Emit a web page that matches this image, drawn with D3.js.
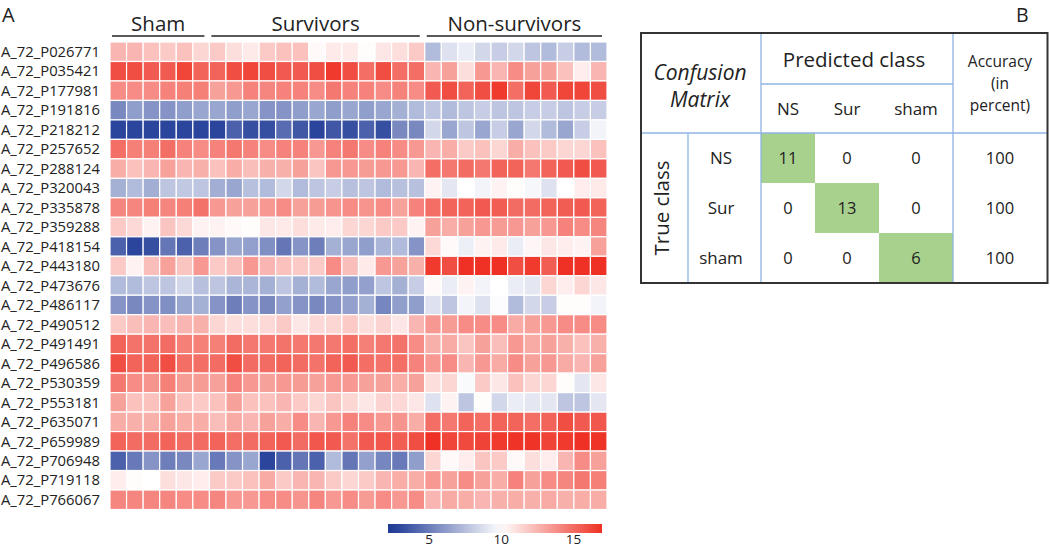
<!DOCTYPE html>
<html><head><meta charset="utf-8">
<script src="https://cdn.jsdelivr.net/npm/d3@7"></script>
<style>body{margin:0;background:#fff}svg{display:block;font-family:"Open Sans",sans-serif}</style>
</head><body><svg id="c" width="1050" height="547"></svg>
<script>
const genes = ["A_72_P026771","A_72_P035421","A_72_P177981","A_72_P191816","A_72_P218212","A_72_P257652","A_72_P288124","A_72_P320043","A_72_P335878","A_72_P359288","A_72_P418154","A_72_P443180","A_72_P473676","A_72_P486117","A_72_P490512","A_72_P491491","A_72_P496586","A_72_P530359","A_72_P553181","A_72_P635071","A_72_P659989","A_72_P706948","A_72_P719118","A_72_P766067"];
const groups = ["Sham","Survivors","Non-survivors"];
const groupSizes = [6,13,11];
const colorTicks = [5,10,15];
// expression values: rows = genes, columns = 6 sham, 13 survivors, 11 non-survivors
const values = [
[12.5,12.5,12.1,11.8,12.1,11.4, 11.8,11.1,10.7,11.8,12.1,12.1,10.2,10.7,10.7,10.1,10.8,11.1,11.8, 7.4,8.9,9.3,8.5,8.1,8.5,7.8,7.4,8.1,7.4,7.4],
[16.0,16.0,15.6,15.6,16.3,15.3, 15.3,16.0,16.3,16.0,15.6,15.6,16.0,16.7,16.0,14.9,16.0,14.9,14.9, 12.5,13.2,11.1,13.5,12.5,13.9,13.2,13.2,12.1,10.6,12.5],
[13.9,13.9,13.9,14.2,14.3,14.3, 13.2,13.5,14.2,14.1,14.2,14.2,13.9,14.6,14.2,14.2,13.9,14.2,13.9, 15.6,16.0,15.3,16.0,16.7,14.9,16.3,15.6,16.3,16.3,16.0],
[5.5,6.3,5.9,5.9,6.3,6.6, 6.6,6.3,6.6,5.9,5.9,6.3,6.6,6.3,6.6,6.3,6.6,7.0,7.4, 7.8,7.4,7.8,8.1,7.8,7.8,8.1,8.1,7.8,8.1,8.1],
[2.9,2.9,2.9,2.9,2.9,2.9, 2.9,4.0,3.3,3.3,4.4,3.6,2.9,3.6,3.3,4.0,3.3,5.5,5.5, 8.5,6.6,7.8,6.6,8.1,6.6,8.5,7.4,6.6,8.1,9.6],
[14.9,14.3,14.3,14.9,14.2,13.9, 14.2,14.6,14.2,13.9,14.2,14.2,13.5,14.2,14.6,13.9,14.2,13.9,13.5, 12.5,12.8,11.8,12.1,11.4,12.8,12.1,11.8,11.4,11.4,12.1],
[12.8,12.1,12.5,13.2,12.5,12.7, 12.1,12.8,12.2,12.7,12.7,13.2,12.0,13.5,13.5,13.4,13.5,13.5,12.5, 14.9,14.6,15.0,14.6,15.3,15.3,14.6,15.3,15.6,16.0,15.6],
[7.0,7.4,6.9,7.8,7.9,7.8, 6.9,6.6,7.6,7.4,8.5,7.4,7.8,8.1,7.6,7.8,7.4,7.6,7.6, 10.4,9.1,10.0,9.6,10.4,10.1,9.7,8.9,10.0,10.6,10.7],
[14.1,14.1,14.3,14.1,14.3,14.8, 13.5,13.2,13.2,13.5,13.9,13.2,13.4,13.6,13.9,13.6,13.9,13.2,14.2, 14.9,15.3,15.3,15.6,15.5,15.0,15.0,15.3,15.5,15.6,15.3],
[11.8,11.3,10.4,12.0,11.3,10.4, 10.4,10.2,10.1,10.8,10.7,11.1,10.7,10.6,11.4,11.4,11.8,11.8,10.4, 13.2,12.8,13.2,13.5,13.4,13.5,13.2,13.5,14.2,13.9,14.1],
[4.0,2.9,3.3,4.8,4.0,5.1, 5.9,6.6,6.4,5.7,4.8,5.9,5.1,7.0,6.6,6.3,7.2,7.4,5.9, 11.3,10.2,9.4,10.4,10.7,9.3,10.3,10.8,10.6,10.4,13.2],
[11.8,10.4,12.2,13.2,12.0,13.5, 11.8,12.2,13.5,12.5,12.1,11.8,11.8,13.9,12.2,10.7,13.5,13.2,12.7, 16.7,16.0,17.0,17.0,17.0,16.0,16.7,15.5,17.0,17.0,17.0],
[7.4,7.4,7.8,7.8,8.5,7.6, 7.8,7.2,7.2,7.0,7.8,7.0,7.4,6.6,6.3,6.4,7.8,7.0,8.1, 10.2,9.3,10.4,9.6,10.0,9.3,9.1,11.4,10.6,11.4,10.8],
[5.9,5.5,5.9,5.7,6.6,7.0, 5.9,5.1,5.9,5.5,6.4,5.9,5.5,5.9,6.4,7.0,5.4,6.3,6.3, 8.9,7.8,9.6,8.9,9.9,7.4,8.5,8.1,10.1,10.1,9.6],
[11.8,12.2,12.5,12.2,12.5,12.7, 11.4,11.1,11.1,11.3,11.8,10.8,11.3,11.4,11.8,11.1,11.5,10.8,12.5, 13.5,13.4,13.9,13.9,13.9,12.9,13.2,13.5,13.9,13.9,13.9],
[15.3,14.8,14.8,15.0,14.3,14.3, 14.3,15.0,14.6,14.6,14.8,14.6,14.6,14.6,14.9,14.3,14.6,14.8,13.9, 12.7,12.9,12.0,13.2,12.2,13.5,12.9,13.2,12.7,12.1,12.7],
[16.0,15.3,15.3,16.0,14.9,14.9, 15.0,16.0,15.0,15.0,15.3,15.0,14.8,15.3,15.6,14.9,14.8,14.9,14.2, 13.5,13.9,12.5,13.5,12.9,13.9,13.2,13.5,12.9,12.5,13.2],
[14.6,13.9,13.6,14.3,13.4,13.4, 13.2,14.2,13.5,13.2,13.5,13.4,13.2,13.5,13.5,13.2,13.2,12.8,13.2, 11.1,11.4,9.8,11.8,10.8,12.1,11.4,11.4,10.1,9.1,10.8],
[13.2,12.1,12.1,13.2,12.1,11.8, 12.1,13.2,12.1,12.1,12.5,11.8,11.4,12.0,11.4,10.8,11.5,11.3,10.8, 8.9,10.4,7.8,10.1,8.5,9.3,9.1,9.1,7.8,7.8,9.1],
[12.8,12.7,12.7,13.2,12.8,12.8, 12.2,12.9,12.5,13.2,12.8,13.9,12.5,13.5,14.2,13.9,13.5,13.6,12.8, 14.9,14.6,15.3,14.9,15.3,15.3,14.9,15.3,16.0,15.6,15.7],
[15.3,15.0,15.0,15.3,15.0,15.0, 15.3,14.9,15.0,15.3,15.6,15.0,15.7,15.6,14.8,15.6,15.7,15.5,16.0, 17.0,16.3,16.2,16.4,16.7,16.9,16.9,16.4,16.7,17.0,16.9],
[4.0,4.9,5.9,5.1,5.5,6.6, 4.9,5.9,6.6,2.9,4.0,4.8,4.0,7.4,4.8,6.4,5.4,4.9,6.3, 11.4,10.2,10.6,12.0,11.8,10.2,11.1,10.6,12.5,13.9,13.2],
[10.6,10.1,10.0,11.1,10.8,10.6, 11.8,11.8,12.1,12.9,11.8,12.5,12.5,11.8,11.4,11.8,12.5,12.8,12.8, 13.5,13.2,13.9,13.2,12.8,14.2,13.2,13.9,14.1,14.6,14.3],
[14.1,14.1,14.1,14.1,13.9,13.9, 14.1,13.5,13.5,13.9,13.9,13.6,14.1,13.5,13.9,13.4,13.9,13.5,13.9, 12.5,12.9,12.8,12.5,12.7,12.8,12.7,12.9,12.7,12.8,12.8]
];
// confusion matrix
const classes = ["NS","Sur","sham"];
const confusion = [[11,0,0],[0,13,0],[0,0,6]];
const accuracy = [100,100,100];

const svg = d3.select("#c");

const samples = [];
groups.forEach((g,gi)=>{for(let i=0;i<groupSizes[gi];i++) samples.push(g+"_"+(i+1));});

const x = d3.scaleBand().domain(samples).range([110,607]).padding(0);
const y = d3.scaleBand().domain(genes).range([42,509.5]).padding(0);
const color = d3.scaleLinear().domain([2.5,10,17]).range(["#1f3a96","#ffffff","#ee3124"]).clamp(true);

const cells = [];
values.forEach((row,ri)=>row.forEach((v,ci)=>cells.push({g:genes[ri],s:samples[ci],v})));
svg.append("g").selectAll("rect").data(cells).join("rect")
  .attr("x",d=>x(d.s)).attr("y",d=>y(d.g))
  .attr("width",x.bandwidth()).attr("height",y.bandwidth())
  .attr("fill",d=>color(d.v)).attr("stroke","#fff").attr("stroke-width",1.2);

// row labels
svg.append("g").selectAll("text").data(genes).join("text")
  .attr("x",1).attr("y",d=>y(d)+y.bandwidth()/2).attr("dy","0.35em")
  .attr("font-size",14.8).attr("fill","#222").text(d=>d);

// group headers
let start=0;
const gh = svg.append("g");
groups.forEach((g,gi)=>{
  const s0 = samples[start], s1 = samples[start+groupSizes[gi]-1];
  const x0 = x(s0)+2, x1 = x(s1)+x.bandwidth()-5;
  gh.append("line").attr("x1",x0).attr("x2",x1).attr("y1",36).attr("y2",36).attr("stroke","#222").attr("stroke-width",1.5);
  gh.append("text").attr("x",(x0+x1)/2).attr("y",31).attr("text-anchor","middle").attr("font-size",20.5).attr("fill","#222").text(g);
  start += groupSizes[gi];
});

svg.append("text").attr("x",2).attr("y",22).attr("font-size",20).attr("fill","#222").text("A");
svg.append("text").attr("x",1016).attr("y",22).attr("font-size",19.5).attr("fill","#222").text("B");

// color bar
const cx = d3.scaleLinear().domain([2.2,17]).range([388,602]);
const defs = svg.append("defs");
const grad = defs.append("linearGradient").attr("id","cb");
d3.range(0,1.0001,0.05).forEach(t=>{
  const v = cx.domain()[0]+t*(cx.domain()[1]-cx.domain()[0]);
  grad.append("stop").attr("offset",t).attr("stop-color",color(v));
});
svg.append("rect").attr("x",cx.range()[0]).attr("y",524).attr("width",cx.range()[1]-cx.range()[0]).attr("height",9).attr("fill","url(#cb)");
const cax = svg.append("g").attr("transform","translate(0,533)")
  .call(d3.axisBottom(cx).tickValues(colorTicks).tickSize(0).tickPadding(0));
cax.select(".domain").remove();
cax.selectAll("text").attr("font-size",13.5).attr("fill","#222").attr("font-family","Open Sans").attr("dy",null).attr("y",11);

// Panel B: confusion matrix table
const T = {l:641,r:1047.5,t:33,b:283};
const colEdges = {NS:[761,815],Sur:[815,879],sham:[879,953]};
const rowY = d3.scaleBand().domain(classes).range([133,283]);
const tb = svg.append("g");
const lineC = "#8fb4e3";
tb.selectAll("rect.g").data(classes).join("rect")
  .attr("x",d=>colEdges[d][0]).attr("y",d=>rowY(d))
  .attr("width",d=>colEdges[d][1]-colEdges[d][0]).attr("height",rowY.bandwidth())
  .attr("fill","#a9d18e");
const ln = (x1,y1,x2,y2)=>tb.append("line").attr("x1",x1).attr("y1",y1).attr("x2",x2).attr("y2",y2).attr("stroke",lineC).attr("stroke-width",1.3);
ln(761,T.t,761,T.b); ln(953,T.t,953,T.b); ln(688,133,688,T.b);
ln(761,84,953,84); ln(T.l,133,T.r,133);
tb.append("rect").attr("x",T.l).attr("y",T.t).attr("width",T.r-T.l).attr("height",T.b-T.t)
  .attr("fill","none").attr("stroke","#333").attr("stroke-width",2);

const tt = (x,y,s,size,opt={})=>{const e=tb.append("text").attr("x",x).attr("y",y).attr("text-anchor","middle").attr("dy","0.35em").attr("font-size",size).attr("fill","#222").text(s); if(opt.italic) e.attr("font-style","italic"); if(opt.rot) e.attr("transform",`rotate(-90,${x},${y})`); return e;};
tt(700,73,"Confusion",21,{italic:true});
tt(700,100,"Matrix",21,{italic:true});
tt(854,60,"Predicted class",20.5);
classes.forEach(c=>tt((colEdges[c][0]+colEdges[c][1])/2,109,c,17));
tt(1000,62,"Accuracy",15.5); tt(1000,84,"(in",15.5); tt(1000,106,"percent)",15.5);
tt(662,208,"True class",20.5,{rot:true});
classes.forEach((r,ri)=>{
  const yc = rowY(r)+rowY.bandwidth()/2;
  tt(721,yc,r,17);
  classes.forEach((c,ci)=>tt((colEdges[c][0]+colEdges[c][1])/2,yc,confusion[ri][ci],16.5));
  tt(1000,yc,accuracy[ri],16.5);
});
</script></body></html>
